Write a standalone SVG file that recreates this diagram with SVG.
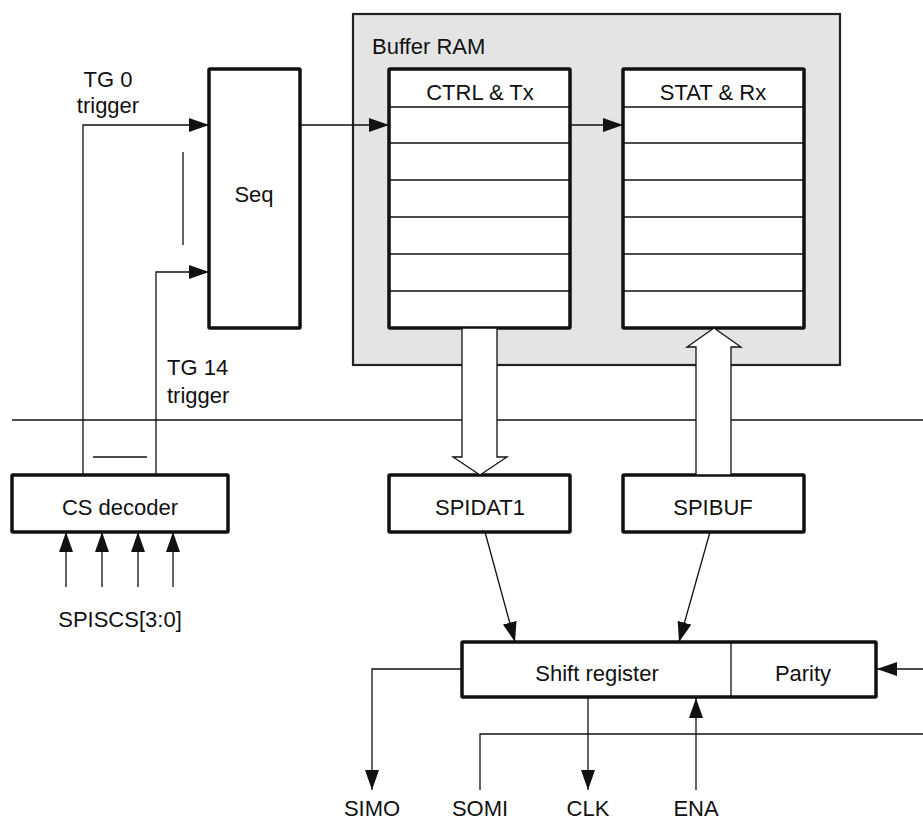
<svg xmlns="http://www.w3.org/2000/svg" width="923" height="821" viewBox="0 0 923 821">
<style>
text{font-family:"Liberation Sans",Arial,sans-serif;font-size:22px;fill:#111}
.c{text-anchor:middle}
.box{fill:#fff;stroke:#111;stroke-width:3.5}
.row{stroke:#111;stroke-width:1.3}
.ln{fill:none;stroke:#111;stroke-width:1.3}
.hol{fill:#fff;stroke:#111;stroke-width:1.3}
</style>
<defs>
<marker id="ah" markerUnits="userSpaceOnUse" markerWidth="20" markerHeight="14" refX="20" refY="7" orient="auto">
<path d="M0,0 L20,7 L0,14 z" fill="#111"/>
</marker>
</defs>
<line class="ln" x1="12" y1="420" x2="923" y2="420"/>
<g id="bufferram">
<rect x="353" y="14" width="487" height="351" fill="#e4e4e4" stroke="#222" stroke-width="2.2"/>
<text x="372" y="54">Buffer RAM</text>
</g>
<g id="ctrltx">
<rect class="box" x="389" y="69" width="181" height="259" rx="1"/>
<path class="row" d="M389,107H570M389,143H570M389,180H570M389,217H570M389,254H570M389,291H570"/>
<text class="c" x="480" y="100">CTRL &amp; Tx</text>
</g>
<g id="statrx">
<rect class="box" x="623" y="69" width="181" height="259" rx="1"/>
<path class="row" d="M623,107H804M623,143H804M623,180H804M623,217H804M623,254H804M623,291H804"/>
<text class="c" x="713" y="100">STAT &amp; Rx</text>
</g>
<g id="seq">
<rect class="box" x="209" y="69" width="91" height="259" rx="1"/>
<text class="c" x="254" y="202">Seq</text>
</g>
<g id="csdecoder">
<rect class="box" x="12" y="475" width="216" height="57" rx="1"/>
<text class="c" x="120" y="515">CS decoder</text>
</g>
<g id="spidat1">
<rect class="box" x="389" y="475" width="181" height="57" rx="1"/>
<text class="c" x="480" y="515">SPIDAT1</text>
</g>
<g id="spibuf">
<rect class="box" x="623" y="475" width="181" height="57" rx="1"/>
<text class="c" x="713" y="515">SPIBUF</text>
</g>
<g id="shiftregister">
<rect class="box" x="462" y="642" width="414" height="55" rx="1"/>
<line class="row" x1="731" y1="642" x2="731" y2="697"/>
<text class="c" x="597" y="681">Shift register</text>
<text class="c" x="803" y="681">Parity</text>
</g>
<g id="connectors">
<path class="ln" d="M300,125H389" marker-end="url(#ah)"/>
<path class="ln" d="M570,125H623" marker-end="url(#ah)"/>
<path class="ln" d="M83,475V125H209" marker-end="url(#ah)"/>
<path class="ln" d="M156,475V272H209" marker-end="url(#ah)"/>
<line class="ln" x1="183" y1="152" x2="183" y2="245"/>
<line class="ln" x1="93" y1="457" x2="147" y2="457"/>
<path class="ln" d="M66,587V532" marker-end="url(#ah)"/>
<path class="ln" d="M102,587V532" marker-end="url(#ah)"/>
<path class="ln" d="M138,587V532" marker-end="url(#ah)"/>
<path class="ln" d="M173,587V532" marker-end="url(#ah)"/>
<polygon class="hol" points="462,328 497,328 497,457 507,457 480,475 453,457 462,457"/>
<polygon class="hol" points="696,475 731,475 731,347 741,347 714,328 687,347 696,347"/>
<path class="ln" d="M485,532L515,642" marker-end="url(#ah)"/>
<path class="ln" d="M710,532L679,642" marker-end="url(#ah)"/>
<path class="ln" d="M462,669H372V790" marker-end="url(#ah)"/>
<path class="ln" d="M588,697V790" marker-end="url(#ah)"/>
<path class="ln" d="M696,790V698" marker-end="url(#ah)"/>
<path class="ln" d="M480,790V734H923"/>
<path class="ln" d="M923,669H877" marker-end="url(#ah)"/>
</g>
<g id="labels">
<text class="c" x="108" y="87">TG 0</text>
<text class="c" x="108" y="113">trigger</text>
<text x="167" y="375">TG 14</text>
<text x="167" y="403">trigger</text>
<text class="c" x="120" y="627">SPISCS[3:0]</text>
<text class="c" x="372" y="816">SIMO</text>
<text class="c" x="480" y="816">SOMI</text>
<text class="c" x="588" y="816">CLK</text>
<text class="c" x="696" y="816">ENA</text>
</g>
</svg>
